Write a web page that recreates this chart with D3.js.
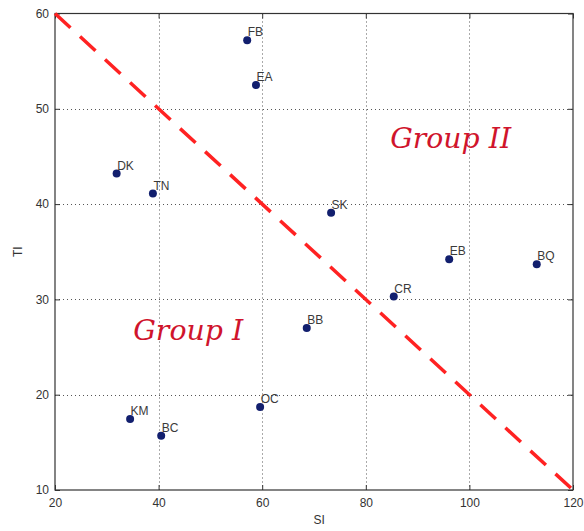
<!DOCTYPE html>
<html>
<head>
<meta charset="utf-8">
<script src="https://cdn.jsdelivr.net/npm/d3@7"></script>
<style>
  html, body { margin: 0; padding: 0; background: #fff; }
  svg { display: block; }
</style>
</head>
<body>
<svg id="chart" width="584" height="531"></svg>
<script>
// Site codes with their SI / TI values
const sites = ["FB", "EA", "DK", "TN", "SK", "EB", "BQ", "CR", "BB", "OC", "KM", "BC"];
const siValues = [57.1, 58.8, 31.9, 38.9, 73.3, 96.1, 113.0, 85.4, 68.6, 59.6, 34.5, 40.5];
const tiValues = [57.2, 52.5, 43.2, 41.1, 39.1, 34.2, 33.7, 30.3, 27.0, 18.7, 17.45, 15.7];

// Dividing line between the two groups: SI + 2·TI = 140
const dividerSI = [20, 120];
const dividerTI = [60, 10];

const xTicks = [20, 40, 60, 80, 100, 120];
const yTicks = [10, 20, 30, 40, 50, 60];

const groupLabels = ["Group I", "Group II"];
const groupSI = [35.1, 84.7];
const groupTI = [25.7, 45.9];

const svg = d3.select("#chart");
const margin = { left: 55, right: 11, top: 13.5, bottom: 41 };
const W = 584, H = 531;

const x = d3.scaleLinear().domain([20, 120]).range([margin.left, W - margin.right]);
const y = d3.scaleLinear().domain([10, 60]).range([H - margin.bottom, margin.top]);

const plotW = W - margin.right - margin.left;
const plotH = H - margin.bottom - margin.top;

const tickColor = "#333";
const fontFamily = "Arial, 'Liberation Sans', sans-serif";

// Dotted grid
const grid = svg.append("g").attr("stroke", "#555").attr("stroke-width", 1)
  .attr("stroke-dasharray", "1,3");
grid.selectAll("line.gx").data(xTicks.slice(1, -1)).join("line")
  .attr("x1", d => Math.round(x(d)) + 0.5).attr("x2", d => Math.round(x(d)) + 0.5)
  .attr("y1", y(60)).attr("y2", y(10));
grid.selectAll("line.gy").data(yTicks.slice(1, -1)).join("line")
  .attr("y1", d => Math.round(y(d)) + 0.5).attr("y2", d => Math.round(y(d)) + 0.5)
  .attr("x1", x(20)).attr("x2", x(120));

// Axes with inward ticks on all four sides
const xAxisB = d3.axisBottom(x).tickValues(xTicks).tickSizeInner(-5).tickSizeOuter(0).tickPadding(8);
const xAxisT = d3.axisTop(x).tickValues(xTicks).tickSizeInner(-5).tickSizeOuter(0).tickFormat("");
const yAxisL = d3.axisLeft(y).tickValues(yTicks).tickSizeInner(-5).tickSizeOuter(0).tickPadding(6);
const yAxisR = d3.axisRight(y).tickValues(yTicks).tickSizeInner(-5).tickSizeOuter(0).tickFormat("");

function styleAxis(g) {
  g.select(".domain").remove();
  g.selectAll(".tick line").attr("stroke", tickColor);
  g.selectAll(".tick text").attr("fill", tickColor).attr("font-size", 12).attr("font-family", fontFamily);
}
svg.append("g").attr("transform", `translate(0,${y(10)})`).call(xAxisB).call(styleAxis);
svg.append("g").attr("transform", `translate(0,${y(60)})`).call(xAxisT).call(styleAxis);
svg.append("g").attr("transform", `translate(${x(20)},0)`).call(yAxisL).call(styleAxis);
svg.append("g").attr("transform", `translate(${x(120)},0)`).call(yAxisR).call(styleAxis);

// Box
svg.append("rect")
  .attr("x", x(20)).attr("y", y(60)).attr("width", plotW).attr("height", plotH)
  .attr("fill", "none").attr("stroke", tickColor).attr("stroke-width", 1.2);

// Axis titles
svg.append("text").attr("x", x(71)).attr("y", 524)
  .attr("text-anchor", "middle").attr("font-family", fontFamily).attr("font-size", 12)
  .attr("fill", tickColor).text("SI");
svg.append("text").attr("transform", `translate(22,${y(35)}) rotate(-90)`)
  .attr("text-anchor", "middle").attr("font-family", fontFamily).attr("font-size", 12)
  .attr("fill", tickColor).text("TI");

// Dashed divider
svg.append("line")
  .attr("x1", x(dividerSI[0])).attr("y1", y(dividerTI[0]))
  .attr("x2", x(dividerSI[1])).attr("y2", y(dividerTI[1]))
  .attr("stroke", "#ff2222").attr("stroke-width", 3.5)
  .attr("stroke-dasharray", "21,13");

// Points
const pts = sites.map((s, i) => ({ name: s, si: siValues[i], ti: tiValues[i] }));
svg.append("g").selectAll("circle").data(pts).join("circle")
  .attr("cx", d => x(d.si)).attr("cy", d => y(d.ti)).attr("r", 4)
  .attr("fill", "#121f6e");

svg.append("g").selectAll("text").data(pts).join("text")
  .attr("x", d => x(d.si) + 0.5).attr("y", d => y(d.ti) - 4)
  .attr("font-family", fontFamily).attr("font-size", 12).attr("fill", "#3a3a3a")
  .text(d => d.name);

// Group annotations
svg.append("g").selectAll("text").data(groupLabels).join("text")
  .attr("x", (d, i) => x(groupSI[i])).attr("y", (d, i) => y(groupTI[i]))
  .attr("font-family", "'DejaVu Serif', serif").attr("font-style", "italic")
  .attr("font-size", 27).attr("fill", "#d0142c")
  .attr("textLength", (d, i) => [110, 121][i]).attr("lengthAdjust", "spacingAndGlyphs")
  .text(d => d);
</script>
</body>
</html>
